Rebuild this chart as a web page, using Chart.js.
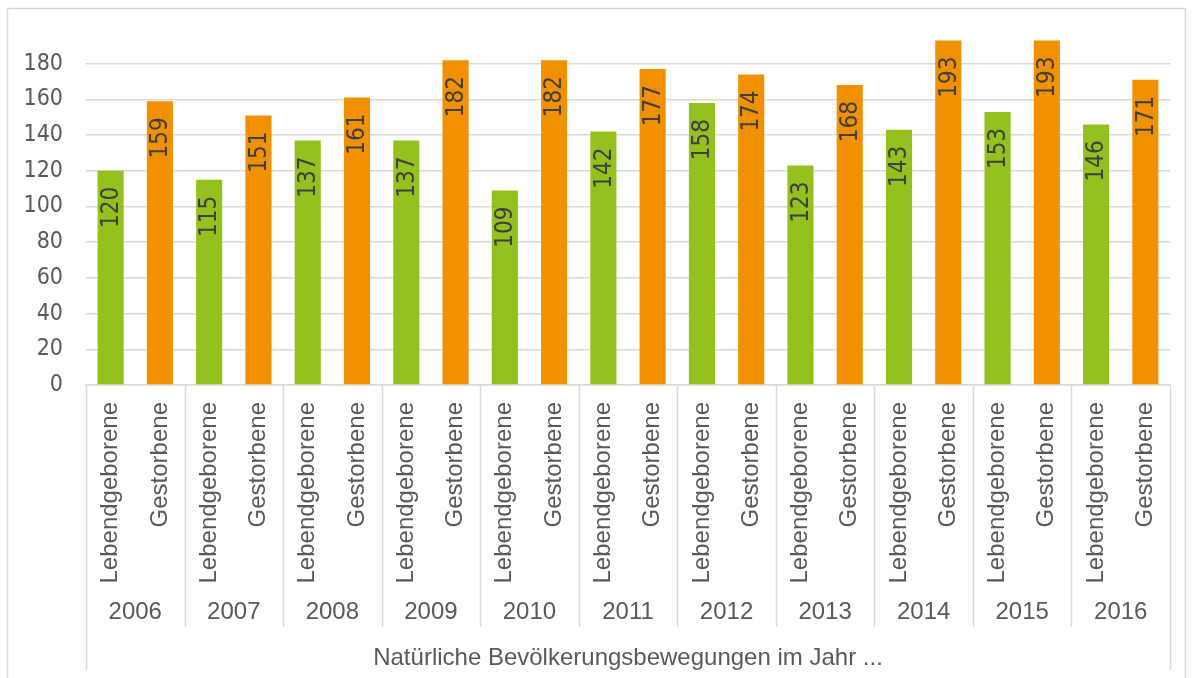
<!DOCTYPE html>
<html lang="de">
<head>
<meta charset="utf-8">
<title>Natürliche Bevölkerungsbewegungen</title>
<script src="https://cdn.jsdelivr.net/npm/chart.js@4/dist/chart.umd.min.js"></script>
<style>
    html, body { margin: 0; padding: 0; background: #fff; }
    #wrap { width: 1192px; height: 678px; position: relative; }
</style>
</head>
<body>
<div id="wrap"><canvas id="chart"></canvas></div>
<script>
(function () {
    'use strict';

    var years = ['2006', '2007', '2008', '2009', '2010', '2011', '2012', '2013', '2014', '2015', '2016'];
    var kinds = ['Lebendgeborene', 'Gestorbene'];
    var births = [120, 115, 137, 137, 109, 142, 158, 123, 143, 153, 146];
    var deaths = [159, 151, 161, 182, 182, 177, 174, 168, 193, 193, 171];
    var axisTitle = 'Natürliche Bevölkerungsbewegungen im Jahr ...';

    var GREEN = '#95c11f';
    var ORANGE = '#f29100';
    var TEXT = '#595959';
    var GRID = '#d9d9d9';
    var NUM_FONT = "'DejaVu Sans Condensed', 'DejaVu Sans', sans-serif";
    var CAT_FONT = "'Liberation Sans', Arial, sans-serif";

    // two bars per year: births then deaths
    var labels = [];
    var values = [];
    var colors = [];
    for (var i = 0; i < years.length; i++) {
        labels.push(kinds[0], kinds[1]);
        values.push(births[i], deaths[i]);
        colors.push(GREEN, ORANGE);
    }

    var valueLabels = {
        id: 'valueLabels',
        afterDatasetsDraw: function (chart) {
            var ctx = chart.ctx;
            var bars = chart.getDatasetMeta(0).data;
            ctx.save();
            ctx.fillStyle = '#404040';
            ctx.font = '24px ' + NUM_FONT;
            ctx.textAlign = 'right';
            ctx.textBaseline = 'middle';
            for (var i = 0; i < bars.length; i++) {
                ctx.save();
                ctx.translate(bars[i].x + 1, bars[i].y + 16);
                ctx.rotate(-Math.PI / 2);
                ctx.fillText(String(values[i]), 0, 0);
                ctx.restore();
            }
            ctx.restore();
        }
    };

    var groupAxis = {
        id: 'groupAxis',
        afterDraw: function (chart) {
            var ctx = chart.ctx;
            var x = chart.scales.x;
            var area = chart.chartArea;
            var bottom = area.bottom;
            var step = (x.right - x.left) / years.length;
            ctx.save();

            // outer frame
            ctx.strokeStyle = GRID;
            ctx.lineWidth = 1.5;
            ctx.beginPath();
            ctx.moveTo(7.5, chart.height);
            ctx.lineTo(7.5, 8.5);
            ctx.lineTo(1185.5, 8.5);
            ctx.lineTo(1185.5, chart.height);
            ctx.stroke();

            // group separators
            ctx.beginPath();
            for (var i = 0; i <= years.length; i++) {
                var gx = Math.round(x.left + i * step) + 0.5;
                var end = (i === 0 || i === years.length) ? bottom + 285 : bottom + 242;
                ctx.moveTo(gx, bottom);
                ctx.lineTo(gx, end);
            }
            ctx.stroke();

            // years
            ctx.fillStyle = TEXT;
            ctx.font = '24px ' + CAT_FONT;
            ctx.textAlign = 'center';
            ctx.textBaseline = 'middle';
            for (var j = 0; j < years.length; j++) {
                var cx = (x.getPixelForValue(2 * j) + x.getPixelForValue(2 * j + 1)) / 2;
                ctx.fillText(years[j], cx, bottom + 227);
            }

            // axis title
            ctx.fillText(axisTitle, (x.left + x.right) / 2, bottom + 273);
            ctx.restore();
        }
    };

    new Chart(document.getElementById('chart'), {
        type: 'bar',
        data: {
            labels: labels,
            datasets: [{
                data: values,
                backgroundColor: colors,
                barPercentage: 0.53,
                categoryPercentage: 1
            }]
        },
        options: {
            responsive: true,
            maintainAspectRatio: false,
            animation: false,
            layout: { padding: { left: 0, right: 22, top: 28, bottom: 0 } },
            plugins: {
                legend: { display: false },
                tooltip: { enabled: false }
            },
            scales: {
                x: {
                    afterFit: function (s) {
                        s.height = 293;
                        s.paddingLeft = 0;
                        s.paddingRight = 0;
                    },
                    border: { display: true, color: GRID, width: 1.5 },
                    grid: { display: false },
                    ticks: {
                        color: TEXT,
                        font: { family: CAT_FONT, size: 24 },
                        minRotation: 90,
                        maxRotation: 90,
                        autoSkip: false,
                        padding: 9
                    }
                },
                y: {
                    min: 0,
                    max: 200,
                    afterFit: function (s) {
                        s.width = 86;
                        s.paddingTop = 0;
                        s.paddingBottom = 0;
                    },
                    border: { display: false },
                    grid: {
                        drawTicks: false,
                        lineWidth: 1.5,
                        color: function (c) {
                            return c.tick && c.tick.value === 200 ? 'rgba(0,0,0,0)' : GRID;
                        }
                    },
                    ticks: {
                        stepSize: 20,
                        color: TEXT,
                        padding: 23,
                        font: { family: NUM_FONT, size: 23 },
                        callback: function (v) { return v === 200 ? '' : v; }
                    }
                }
            }
        },
        plugins: [valueLabels, groupAxis]
    });
})();
</script>
</body>
</html>
